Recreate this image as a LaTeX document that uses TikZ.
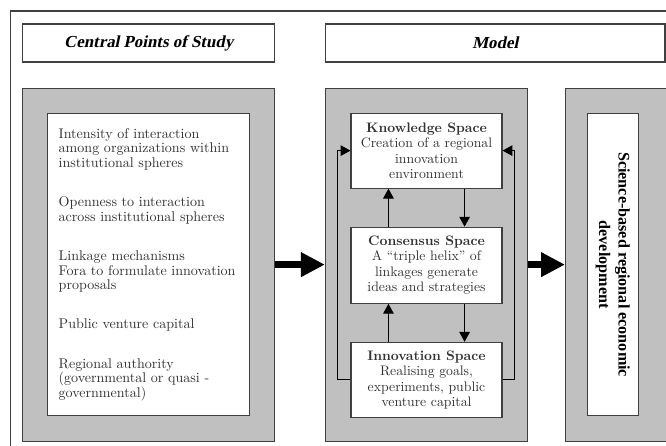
\documentclass[tikz,border=0pt]{standalone}
\usepackage{fontspec}
\newfontfamily\timesfont{Liberation Serif}
\newfontfamily\headfont{Liberation Serif}[FakeSlant=0.21]
\usepackage{xcolor}
\usepackage{tikz}
\usetikzlibrary{arrows.meta,positioning}
\definecolor{panelgrey}{HTML}{C0C0C0}
\definecolor{edgegrey}{HTML}{404040}
\definecolor{textgrey}{HTML}{333333}

\begin{document}
\begin{tikzpicture}[
  node distance=0.625cm and 1.24cm,
  head/.style={draw=edgegrey, line width=0.8pt, minimum width=6.3cm, minimum height=0.95cm, inner sep=0pt, font=\headfont\bfseries\fontsize{12}{14}\selectfont},
  panel/.style={draw=edgegrey, line width=0.8pt, fill=panelgrey, minimum height=8.825cm, inner sep=0pt},
  whitebox/.style={draw=edgegrey, line width=0.8pt, fill=white, inner sep=0pt},
  space/.style={whitebox, minimum width=3.775cm, minimum height=1.875cm, align=center, text=textgrey, font=\fontsize{9.8}{10.9}\selectfont},
  arr/.style={-{Triangle[length=7pt, width=7.5pt]}, line width=0.7pt, draw=black},
  bigarr/.style={-{Triangle[length=17pt, width=16.5pt]}, line width=5pt},
]
  \useasboundingbox (0,0) rectangle (16.65,-11.15);

  % Outer frame (runs off the page)
  \draw[edgegrey, line width=0.8pt] (0.2675,-11.5) |- (17,-0.275);

  % Headers
  \node[head] (central) at (3.7175,-1.075) {Central Points of Study};
  \node[head, minimum width=8.49cm, right=1.24cm of central] (model) {Model};

  % Grey panels
  \node[panel, minimum width=6.3cm, below=0.625cm of central] (leftpanel) {};
  \node[panel, minimum width=5.055cm, right=1.24cm of leftpanel] (modelpanel) {};
  \node[panel, minimum width=2.52cm, right=0.92cm of modelpanel] (rightpanel) {};

  % Central points of study
  \node[whitebox, minimum width=5.04cm, minimum height=7.55cm, text width=4.5cm, inner xsep=0.27cm, align=left, text=textgrey, font=\fontsize{10}{10.4}\selectfont] (points) at (leftpanel) {%
    Intensity of interaction\\among organizations within\\institutional spheres\\[17.5pt]
    Openness to interaction\\across institutional spheres\\[17.5pt]
    Linkage mechanisms\\Fora to formulate innovation\\proposals\\[17.5pt]
    Public venture capital\\[17.5pt]
    Regional authority\\(governmental or quasi -\\governmental)};

  % Model spaces
  \node[space, below=0.625cm of modelpanel.north] (knowledge) {\textbf{Knowledge Space}\\Creation of a regional\\innovation\\environment};
  \node[space, minimum height=1.9cm, below=0.95cm of knowledge] (consensus) {\textbf{Consensus Space}\\A ``triple helix'' of\\linkages generate\\ideas and strategies};
  \node[space, below=0.95cm of consensus] (innovation) {\textbf{Innovation Space}\\Realising goals,\\experiments, public\\venture capital};

  % Outcome
  \node[whitebox, rotate=-90, minimum width=7.55cm, minimum height=1.275cm, align=center, font=\timesfont\bfseries\fontsize{11.5}{14}\selectfont] (outcome) at ([xshift=-0.08cm]rightpanel.center) {Science-based regional economic\\development};

  % Arrows between spaces
  \draw[arr] ([xshift=0.95cm]consensus.north west) -- ([xshift=0.95cm]knowledge.south west);
  \draw[arr] ([xshift=-0.95cm]knowledge.south east) -- ([xshift=-0.95cm]consensus.north east);
  \draw[arr] ([xshift=0.95cm]innovation.north west) -- ([xshift=0.95cm]consensus.south west);
  \draw[arr] ([xshift=-0.95cm]consensus.south east) -- ([xshift=-0.95cm]innovation.north east);

  % Feedback loops
  \draw[arr] (innovation.west) -- ++(-0.325,0) |- (knowledge.west);
  \draw[arr] (innovation.east) -- ++(0.3,0) |- (knowledge.east);

  % Flow between panels
  \draw[bigarr] (leftpanel.east) -- (modelpanel.west);
  \draw[bigarr] (modelpanel.east) -- (rightpanel.west);
\end{tikzpicture}
\end{document}
